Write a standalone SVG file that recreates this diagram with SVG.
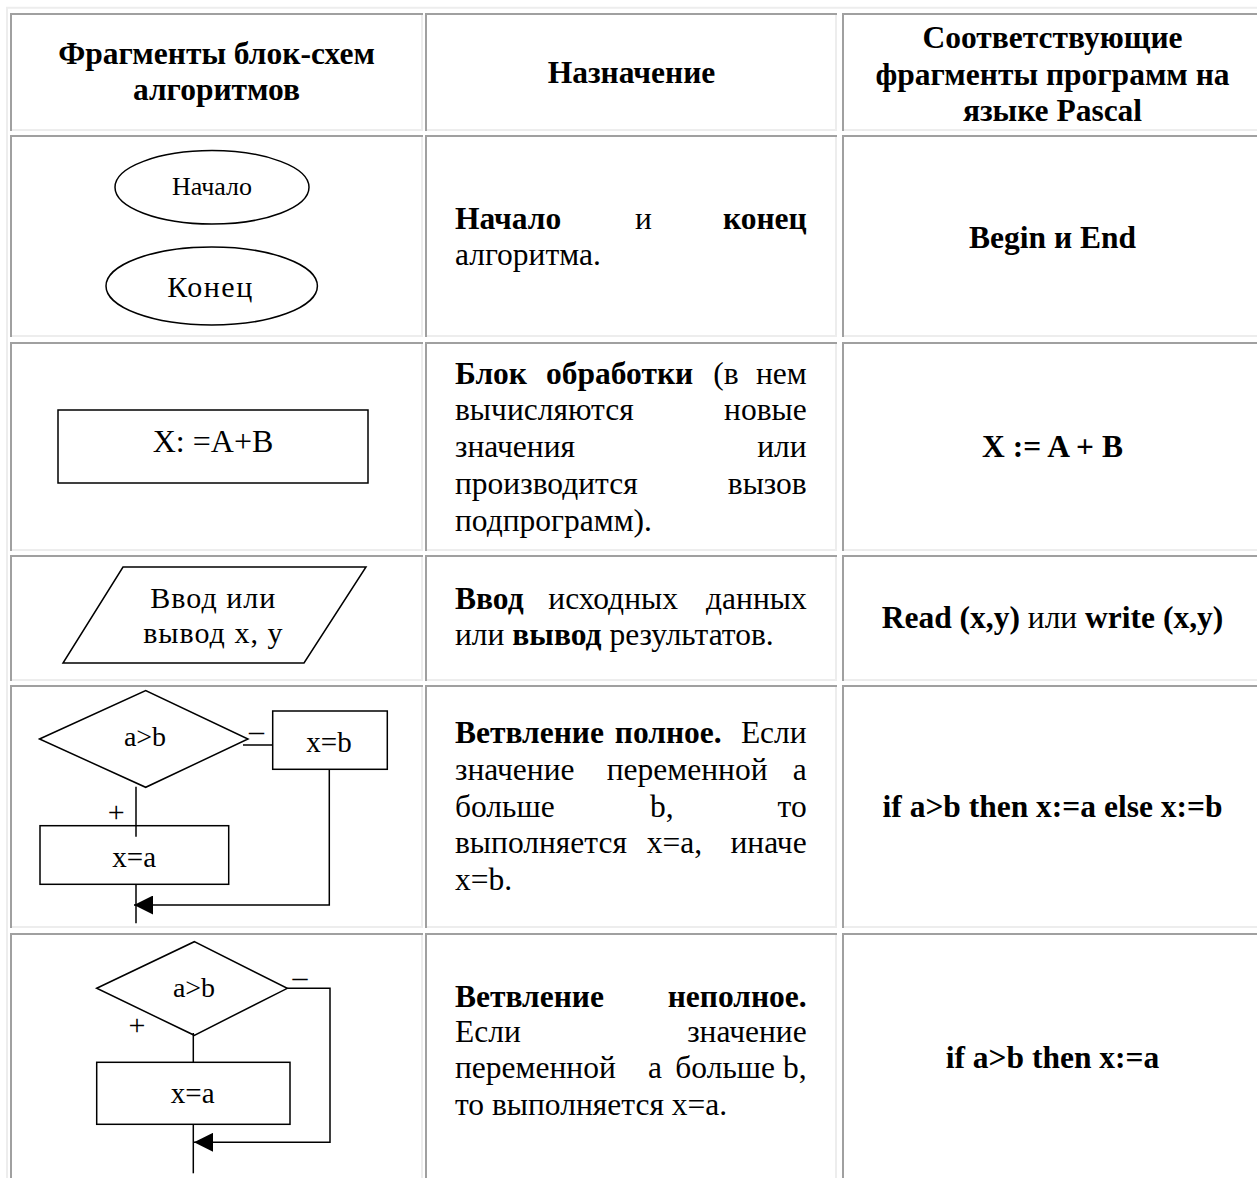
<svg xmlns="http://www.w3.org/2000/svg" width="1257" height="1178" viewBox="0 0 1257 1178">
<style>
.dk{fill:none;stroke:#a0a0a0;stroke-width:2}
.lt{fill:none;stroke:#ededed;stroke-width:2}
.t{font-family:'Liberation Serif','Times New Roman',serif;font-size:31.5px;fill:#000}
.b{font-weight:bold}
.c{text-anchor:middle}
.e{text-anchor:end}
.sh{fill:#fff;stroke:#000;stroke-width:1.5}
.ln{fill:none;stroke:#000;stroke-width:1.5}
.d{font-family:'Liberation Serif','Times New Roman',serif;fill:#000;text-anchor:middle}
</style>
<defs>
<marker id="arr" markerUnits="userSpaceOnUse" viewBox="0 0 19 19" markerWidth="19" markerHeight="19" refX="19" refY="9.5" orient="auto">
<path d="M0 0L19 9.5L0 19Z" fill="#000"/>
</marker>
</defs>
<rect width="1257" height="1178" fill="#fff"/>
<g id="table-grid">
<path class="lt" d="M7 1178V7.7H1257"/>
<path class="dk" d="M11 131V14H423"/><path class="lt" d="M12 130H422V15"/>
<path class="dk" d="M426 131V14H837"/><path class="lt" d="M427 130H836V15"/>
<path class="dk" d="M843 131V14H1263"/><path class="lt" d="M844 130H1262V15"/>
<path class="dk" d="M11 337V136H423"/><path class="lt" d="M12 336H422V137"/>
<path class="dk" d="M426 337V136H837"/><path class="lt" d="M427 336H836V137"/>
<path class="dk" d="M843 337V136H1263"/><path class="lt" d="M844 336H1262V137"/>
<path class="dk" d="M11 551V343H423"/><path class="lt" d="M12 550H422V344"/>
<path class="dk" d="M426 551V343H837"/><path class="lt" d="M427 550H836V344"/>
<path class="dk" d="M843 551V343H1263"/><path class="lt" d="M844 550H1262V344"/>
<path class="dk" d="M11 681V556H423"/><path class="lt" d="M12 680H422V557"/>
<path class="dk" d="M426 681V556H837"/><path class="lt" d="M427 680H836V557"/>
<path class="dk" d="M843 681V556H1263"/><path class="lt" d="M844 680H1262V557"/>
<path class="dk" d="M11 928V686H423"/><path class="lt" d="M12 927H422V687"/>
<path class="dk" d="M426 928V686H837"/><path class="lt" d="M427 927H836V687"/>
<path class="dk" d="M843 928V686H1263"/><path class="lt" d="M844 927H1262V687"/>
<path class="dk" d="M11 1190V934H423"/><path class="lt" d="M422 1190V935"/>
<path class="dk" d="M426 1190V934H837"/><path class="lt" d="M836 1190V935"/>
<path class="dk" d="M843 1190V934H1263"/>
</g>
<g id="header">
<text class="t b c" x="216.5" y="64.3">Фрагменты блок-схем</text>
<text class="t b c" x="216.5" y="100">алгоритмов</text>
<text class="t b c" x="631.5" y="83.3">Назначение</text>
<text class="t b c" x="1052.5" y="47.5">Соответствующие</text>
<text class="t b c" x="1052.5" y="84.5">фрагменты программ на</text>
<text class="t b c" x="1052.5" y="120.5">языке Pascal</text>
</g>
<g id="row-start-end">
<g id="start-node">
<ellipse class="sh" cx="212" cy="187.3" rx="97" ry="36.7"/>
<text class="d" x="212" y="195" font-size="26">Начало</text>
</g>
<g id="end-node">
<ellipse class="sh" cx="211.7" cy="286" rx="105.7" ry="39"/>
<text class="d" x="210.5" y="296.7" font-size="30" letter-spacing="1.5">Конец</text>
</g>
<text class="t b" x="455" y="229.3">Начало</text>
<text class="t" x="635" y="229.3">и</text>
<text class="t b e" x="806.7" y="229.3">конец</text>
<text class="t" x="455" y="265.3">алгоритма.</text>
<text class="t b c" x="1052.5" y="248.3">Begin и End</text>
</g>
<g id="row-process">
<g id="process-node">
<rect class="sh" x="58" y="410" width="310" height="73"/>
<text class="d" x="213" y="451.7" font-size="32">X: =A+B</text>
</g>
<text class="t b" x="455" y="384">Блок</text>
<text class="t b" x="546" y="384">обработки</text>
<text class="t" x="713.3" y="384">(в</text>
<text class="t e" x="806.7" y="384">нем</text>
<text class="t" x="455" y="420.3">вычисляются</text>
<text class="t e" x="806.7" y="420.3">новые</text>
<text class="t" x="455" y="457">значения</text>
<text class="t e" x="806.7" y="457">или</text>
<text class="t" x="455" y="494">производится</text>
<text class="t e" x="806.7" y="494">вызов</text>
<text class="t" x="455" y="530.7">подпрограмм).</text>
<text class="t b c" x="1052.5" y="456.7">X := A + B</text>
</g>
<g id="row-io">
<g id="io-node">
<polygon class="sh" points="123,567 366,567 304,663 63,663"/>
<text class="d" x="213.3" y="608.3" font-size="30" letter-spacing="1">Ввод или</text>
<text class="d" x="213.3" y="643.3" font-size="30" letter-spacing="1">вывод x, y</text>
</g>
<text class="t b" x="455" y="609.3">Ввод</text>
<text class="t" x="548.3" y="609.3">исходных</text>
<text class="t e" x="806.7" y="609.3">данных</text>
<text class="t" x="455" y="645">или <tspan class="b">вывод</tspan> результатов.</text>
<text class="t c" x="1052.5" y="628.3"><tspan class="b">Read (x,y)</tspan> или <tspan class="b">write (x,y)</tspan></text>
</g>
<g id="row-full-branch">
<g id="full-decision">
<polygon class="sh" points="39.5,739 145.7,690.5 248,739 145.7,787.3"/>
<text class="d" x="145" y="746" font-size="28">a&gt;b</text>
</g>
<g id="full-else-block">
<rect class="sh" x="272.7" y="711" width="114.6" height="58.3"/>
<text class="d" x="329" y="751.7" font-size="29">x=b</text>
</g>
<g id="full-then-block">
<rect class="sh" x="40" y="825.7" width="188.7" height="58.6"/>
<text class="d" x="134.2" y="866.7" font-size="29">x=a</text>
</g>
<text class="d" x="256.5" y="741" font-size="30">–</text>
<text class="d" x="116.3" y="822" font-size="30">+</text>
<text class="t b" x="455" y="743.3">Ветвление</text>
<text class="t b e" x="721.7" y="743.3">полное.</text>
<text class="t e" x="806.7" y="743.3">Если</text>
<text class="t" x="455" y="780">значение</text>
<text class="t" x="606.7" y="780">переменной</text>
<text class="t e" x="806.7" y="780">а</text>
<text class="t" x="455" y="816.7">больше</text>
<text class="t" x="650" y="816.7">b,</text>
<text class="t e" x="806.7" y="816.7">то</text>
<text class="t" x="455" y="853.3">выполняется</text>
<text class="t" x="646.7" y="853.3">x=a,</text>
<text class="t e" x="806.7" y="853.3">иначе</text>
<text class="t" x="455" y="890">x=b.</text>
<text class="t b c" x="1052.5" y="816.7">if a&gt;b then x:=a else x:=b</text>
</g>
<g id="row-partial-branch">
<g id="partial-decision">
<polygon class="sh" points="96.7,988.3 194.3,941.7 287.3,988.3 194.3,1035.3"/>
<text class="d" x="194" y="996.7" font-size="28">a&gt;b</text>
</g>
<g id="partial-then-block">
<rect class="sh" x="96.7" y="1062.3" width="193.3" height="62"/>
<text class="d" x="192.7" y="1103.3" font-size="29">x=a</text>
</g>
<text class="d" x="300" y="986.5" font-size="30">–</text>
<text class="d" x="137" y="1034.5" font-size="30">+</text>
<text class="t b" x="455" y="1006.7">Ветвление</text>
<text class="t b e" x="806.7" y="1006.7">неполное.</text>
<text class="t" x="455" y="1041.7">Если</text>
<text class="t e" x="806.7" y="1041.7">значение</text>
<text class="t" x="455" y="1078.3">переменной</text>
<text class="t" x="648" y="1078.3">а</text>
<text class="t e" x="775" y="1078.3">больше</text>
<text class="t e" x="806.7" y="1078.3">b,</text>
<text class="t" x="455" y="1115">то выполняется x=a.</text>
<text class="t b c" x="1052.5" y="1068.3">if a&gt;b then x:=a</text>
</g>
<g id="connectors">
<path class="ln" d="M243 745H272.7"/>
<path class="ln" d="M136 786.7V836.7"/>
<path class="ln" d="M136 884.3V923.3"/>
<path class="ln" d="M329.3 769.3V905H134" marker-end="url(#arr)"/>
<path class="ln" d="M287.3 988.3H330V1142.3H194" marker-end="url(#arr)"/>
<path class="ln" d="M193.3 1033V1062.3"/>
<path class="ln" d="M193.3 1124.3V1173.3"/>
</g>
</svg>
